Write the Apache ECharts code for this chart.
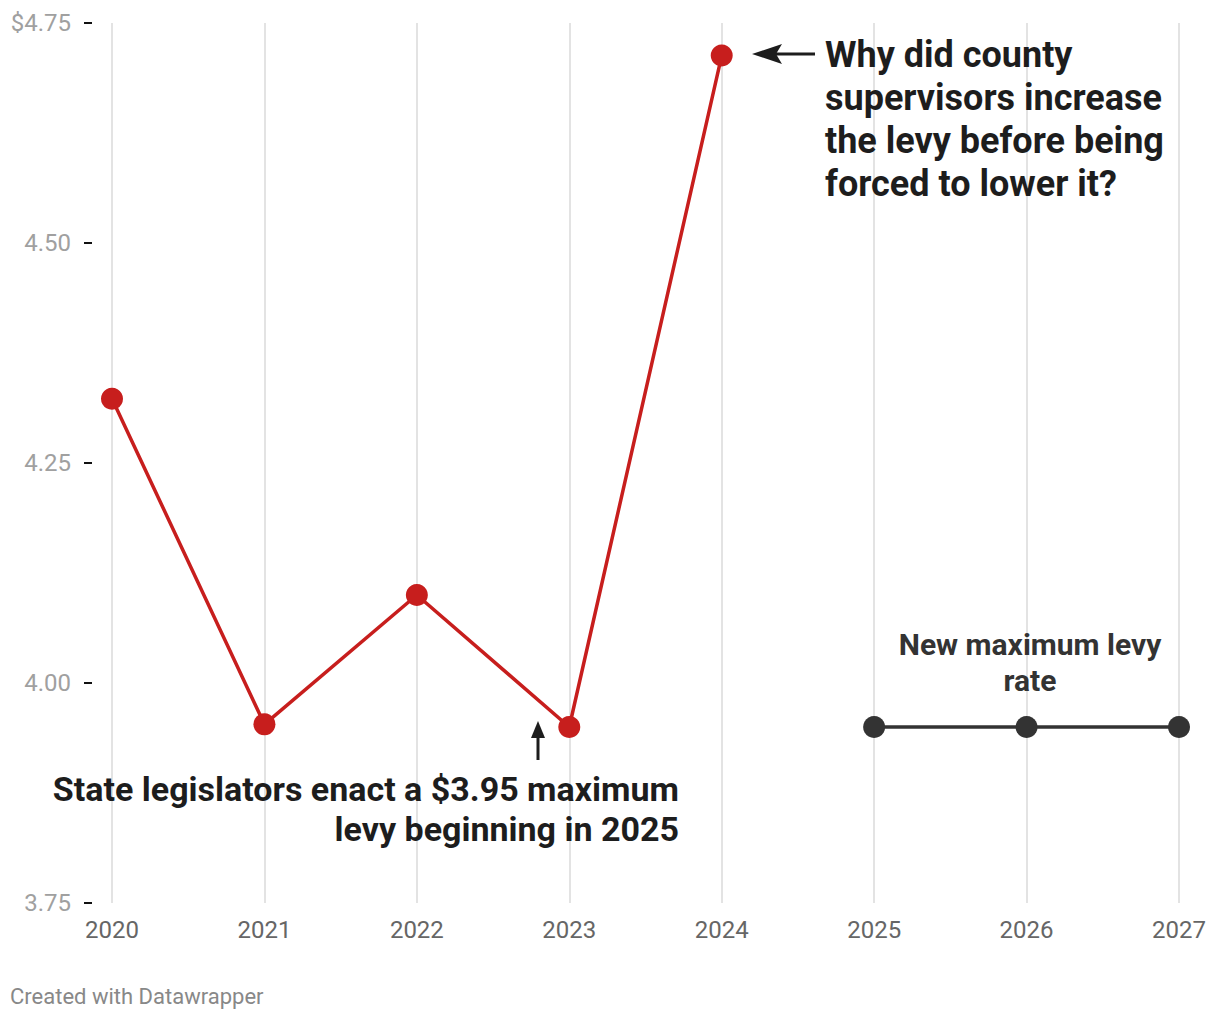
<!DOCTYPE html>
<html>
<head>
<meta charset="utf-8">
<script src="https://cdn.jsdelivr.net/npm/echarts@6/dist/echarts.min.js"></script>
<style>
html,body{margin:0;padding:0;background:#fff;}
#chart{width:1220px;height:1020px;}
</style>
</head>
<body>
<div id="chart"></div>
<script>
const years = ['2020','2021','2022','2023','2024','2025','2026','2027'];
const levyRate = [4.323, 3.953, 4.10, 3.95, 4.713, null, null, null];
const maxLevy = [null, null, null, null, null, 3.95, 3.95, 3.95];
const yTicks = [3.75, 4.00, 4.25, 4.50, 4.75];

const chart = echarts.init(document.getElementById('chart'), null, {renderer: 'svg'});
const FONT = 'Roboto';
chart.setOption({
  animation: false,
  textStyle: {fontFamily: FONT},
  grid: {left: 112, right: 41, top: 23, bottom: 117},
  xAxis: {
    type: 'category',
    data: years,
    boundaryGap: false,
    axisLine: {show: false},
    axisTick: {show: false},
    axisLabel: {color: '#666', fontSize: 24, fontFamily: FONT, margin: 15},
    splitLine: {show: true, lineStyle: {color: '#e3e3e3', width: 2}}
  },
  yAxis: {
    type: 'value',
    min: yTicks[0],
    max: yTicks[yTicks.length - 1],
    interval: 0.25,
    offset: 20,
    axisLine: {show: false},
    axisTick: {show: true, length: 8, lineStyle: {color: '#111', width: 2}},
    splitLine: {show: false},
    axisLabel: {
      color: '#a0a0a0', fontSize: 24, fontFamily: FONT, margin: 21,
      formatter: v => (Math.abs(v - 4.75) < 1e-6 ? '$' : '') + v.toFixed(2)
    }
  },
  series: [
    {
      type: 'line', data: levyRate, connectNulls: false,
      symbol: 'circle', symbolSize: 22,
      lineStyle: {color: '#c71e1d', width: 3.5},
      itemStyle: {color: '#c71e1d'}
    },
    {
      type: 'line', data: maxLevy,
      symbol: 'circle', symbolSize: 22,
      lineStyle: {color: '#333', width: 3.5},
      itemStyle: {color: '#333'}
    }
  ],
  graphic: [
    {type: 'text', x: 825, y: 33, z: 100, style: {
      text: 'Why did county\nsupervisors increase\nthe levy before being\nforced to lower it?',
      font: 'bold 36px Roboto', fill: '#1d1d1d', lineHeight: 43, align: 'left', verticalAlign: 'top'}},
    {type: 'line', z: 100, shape: {x1: 770, y1: 54, x2: 815, y2: 54}, style: {stroke: '#1d1d1d', lineWidth: 3}},
    {type: 'polygon', z: 100, shape: {points: [[752, 54], [782, 44], [776, 54], [782, 64]]}, style: {fill: '#1d1d1d'}},
    {type: 'text', x: 679, y: 769, z: 100, style: {
      text: 'State legislators enact a $3.95 maximum\nlevy beginning in 2025',
      font: 'bold 34px Roboto', fill: '#1d1d1d', lineHeight: 40, align: 'right', verticalAlign: 'top'}},
    {type: 'line', z: 100, shape: {x1: 538, y1: 760, x2: 538, y2: 735}, style: {stroke: '#1d1d1d', lineWidth: 3}},
    {type: 'polygon', z: 100, shape: {points: [[538, 721], [545, 738], [531, 738]]}, style: {fill: '#1d1d1d'}},
    {type: 'text', x: 1030, y: 626, z: 100, style: {
      text: 'New maximum levy\nrate', font: 'bold 30px Roboto', fill: '#333', lineHeight: 36, align: 'center', verticalAlign: 'top'}},
    {type: 'text', x: 10, y: 985, z: 100, style: {
      text: 'Created with Datawrapper', font: '22px Roboto', fill: '#888', verticalAlign: 'top'}}
  ]
});
</script>
</body>
</html>
